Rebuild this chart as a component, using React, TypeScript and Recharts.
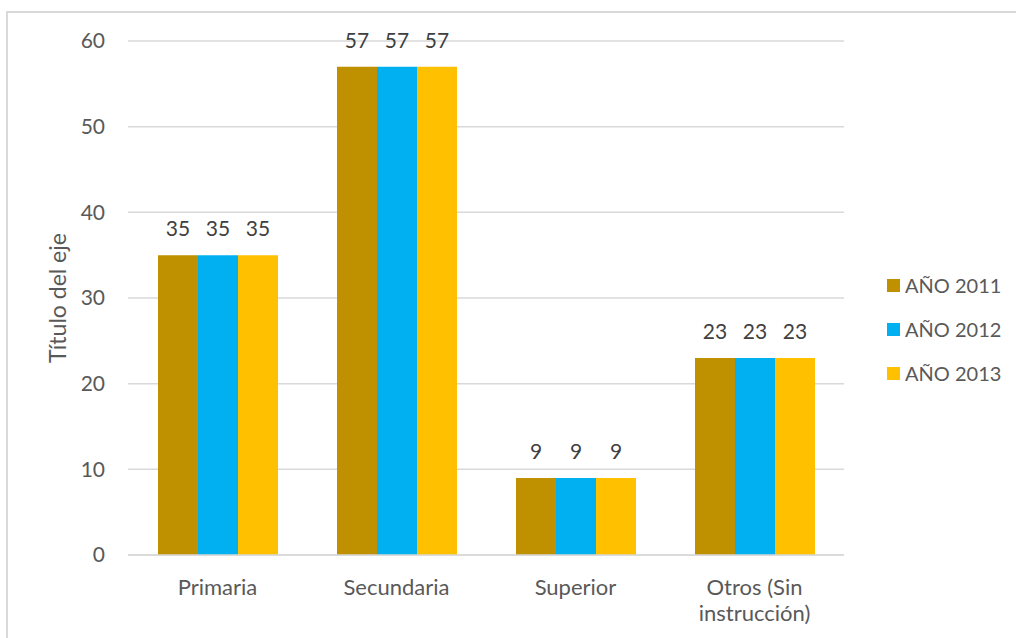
import { Bar, BarChart, CartesianGrid, LabelList, Legend, Text, XAxis, YAxis } from "recharts"

const categories = ["Primaria", "Secundaria", "Superior", "Otros (Sin instrucción)"]
const anio2011 = [35, 57, 9, 23]
const anio2012 = [35, 57, 9, 23]
const anio2013 = [35, 57, 9, 23]
const yTicks = [0, 10, 20, 30, 40, 50, 60]

const SERIES = [
  { key: "a2011", label: "AÑO 2011", color: "#BF9000" },
  { key: "a2012", label: "AÑO 2012", color: "#00B0F0" },
  { key: "a2013", label: "AÑO 2013", color: "#FFC000" },
]

const FONT = "Lato, 'Open Sans', sans-serif"
const AXIS_COLOR = "#595959"

const data = categories.map((name, i) => ({
  name,
  a2011: anio2011[i],
  a2012: anio2012[i],
  a2013: anio2013[i],
}))

function CategoryTick(props: any) {
  const { x, y, payload } = props
  return (
    <Text
      x={x}
      y={y}
      width={130}
      textAnchor="middle"
      verticalAnchor="start"
      lineHeight={26}
      fontSize={22}
      fontFamily={FONT}
      fill={AXIS_COLOR}
    >
      {payload.value}
    </Text>
  )
}

function AxisTitle(props: any) {
  const { viewBox } = props
  const cx = 57
  const cy = viewBox.y + viewBox.height / 2
  return (
    <text
      x={cx}
      y={cy}
      transform={`rotate(-90, ${cx}, ${cy})`}
      textAnchor="middle"
      dominantBaseline="central"
      fontSize={23}
      fontFamily={FONT}
      fill={AXIS_COLOR}
    >
      Título del eje
    </text>
  )
}

function SideLegend() {
  return (
    <div style={{ fontFamily: FONT, fontSize: 20, color: AXIS_COLOR }}>
      {SERIES.map((s) => (
        <div key={s.key} style={{ display: "flex", alignItems: "center", height: 44 }}>
          <span style={{ width: 13, height: 13, background: s.color, marginRight: 5, display: "inline-block" }} />
          <span>{s.label}</span>
        </div>
      ))}
    </div>
  )
}

export default function App() {
  return (
    <div style={{ position: "absolute", left: 0, top: 0, width: 1016, height: 638, background: "#fff", overflow: "hidden" }}>
      <div
        style={{
          position: "absolute",
          left: 6,
          top: 11,
          width: 1020,
          height: 640,
          borderLeft: "2px solid #d9d9d9",
          borderTop: "2px solid #d9d9d9",
        }}
      />
      <BarChart
        width={1016}
        height={638}
        data={data}
        margin={{ top: 41, right: 172, bottom: 23, left: 58 }}
        barCategoryGap={30}
        barGap={0}
        style={{ position: "absolute", left: 0, top: 0 }}
      >
        <CartesianGrid vertical={false} stroke="#d9d9d9" strokeWidth={1.5} />
        <XAxis
          dataKey="name"
          axisLine={{ stroke: "#d9d9d9", strokeWidth: 1.5 }}
          tickLine={false}
          tickSize={6}
          tickMargin={18}
          height={60}
          interval={0}
          tick={<CategoryTick />}
        />
        <YAxis
          domain={[0, 60]}
          ticks={yTicks}
          width={70}
          axisLine={false}
          tickLine={false}
          tickSize={6}
          tickMargin={17}
          tick={{ fontSize: 21, fontFamily: FONT, fill: AXIS_COLOR }}
          label={<AxisTitle />}
        />
        <Legend
          layout="vertical"
          align="center"
          verticalAlign="middle"
          content={<SideLegend />}
          wrapperStyle={{ left: 887, top: 263, width: 130 }}
        />
        {SERIES.map((s) => (
          <Bar key={s.key} dataKey={s.key} name={s.label} fill={s.color} isAnimationActive={false}>
            <LabelList
              dataKey={s.key}
              position="top"
              offset={19}
              fontSize={21}
              fontFamily={FONT}
              fill="#404040"
            />
          </Bar>
        ))}
      </BarChart>
    </div>
  )
}
